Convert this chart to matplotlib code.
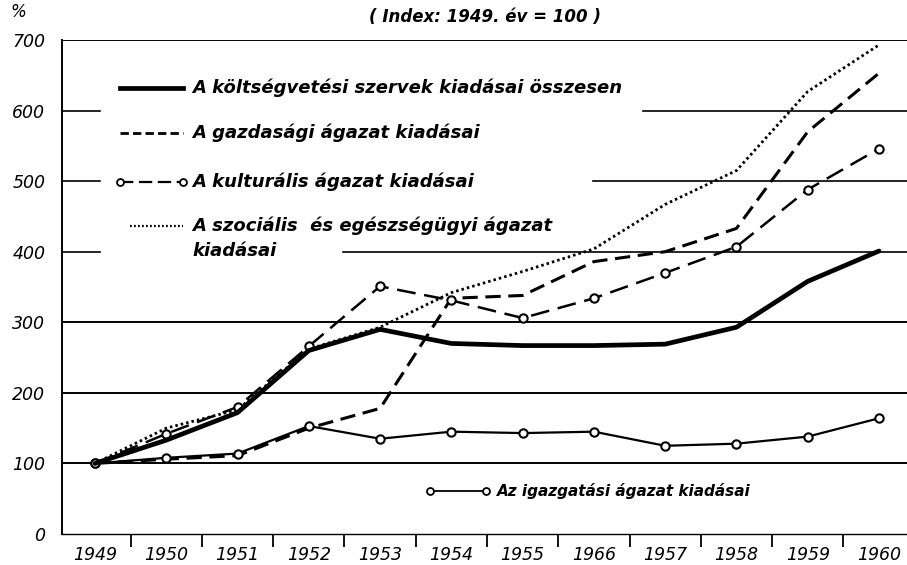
import matplotlib
matplotlib.use("Agg")
import matplotlib.pyplot as plt
from matplotlib.ticker import FixedLocator

# Index values, 1949 = 100
years = [1949, 1950, 1951, 1952, 1953, 1954, 1955, 1956, 1957, 1958, 1959, 1960]
year_labels = ["1949", "1950", "1951", "1952", "1953", "1954",
               "1955", "1966", "1957", "1958", "1959", "1960"]
total = [100, 133, 172, 260, 290, 270, 267, 267, 269, 293, 358, 401]
economic = [100, 106, 111, 150, 178, 334, 338, 386, 400, 433, 570, 653]
cultural = [100, 142, 180, 266, 351, 331, 306, 334, 370, 407, 488, 546]
social = [100, 150, 176, 262, 293, 342, 372, 404, 467, 515, 627, 693]
admin = [100, 108, 114, 153, 135, 145, 143, 145, 125, 128, 138, 164]

y_ticks = [0, 100, 200, 300, 400, 500, 600, 700]

FONT = "DejaVu Sans"


def ax_pt(x, y):
    # converted reference pixel position to axes fraction
    return (x - 62) / 845, (534 - y) / 494


fig = plt.figure(figsize=(9.07, 5.65), dpi=100)
ax = fig.add_axes([62 / 907, 31 / 565, 845 / 907, 494 / 565])

ax.set_xlim(1948.537, 1960.393)
ax.set_ylim(0, 700)

# grid lines: full ones and the ones broken by the legend
for v in [100, 200, 300, 700]:
    ax.axhline(v, color="black", lw=1.4, zorder=1)
for v, start in [(600, 643), (500, 593), (400, 343)]:
    ax.axhline(v, xmin=0, xmax=ax_pt(100, 0)[0], color="black", lw=1.2, zorder=1)
    ax.axhline(v, xmin=ax_pt(start, 0)[0], xmax=1, color="black", lw=1.2, zorder=1)

ax.plot(years, total, color="black", lw=3.4, solid_capstyle="round", zorder=5)
ax.plot(years, economic, color="black", lw=2.2, dashes=(5, 2.5), zorder=4)
ax.plot(years, cultural, color="black", lw=1.8, dashes=(7.5, 3.5), marker="o",
        ms=6, mfc="white", mec="black", mew=1.5, zorder=4)
ax.plot(years, social, color="black", lw=2.0, dashes=(0.9, 1.1), zorder=3)
ax.plot(years, admin, color="black", lw=1.6, marker="o", ms=6, mfc="white",
        mec="black", mew=1.5, zorder=4)

# spines and ticks
for s in ["top", "right"]:
    ax.spines[s].set_visible(False)
ax.spines["left"].set_linewidth(1.4)
ax.spines["bottom"].set_linewidth(1.0)
ax.spines["bottom"].set_linestyle((0, (1, 1)))

ax.set_xticks(years)
ax.set_xticklabels(year_labels, fontstyle="italic", fontsize=12.5, family=FONT)
ax.xaxis.set_minor_locator(FixedLocator([y + 0.5 for y in years[:-1]]))
ax.tick_params(axis="x", which="major", length=0, pad=9)
ax.tick_params(axis="x", which="minor", length=9, width=1.3, direction="out")

ax.set_yticks(y_ticks)
ax.set_yticklabels([str(v) for v in y_ticks], fontstyle="italic", fontsize=12.5,
                   family=FONT)
ax.tick_params(axis="y", length=0, pad=12)

fig.text(10 / 907, 1 - 12 / 565, "%", fontsize=12, fontstyle="italic",
         ha="left", va="center", family=FONT)
fig.text(485 / 907, 1 - 17 / 565, "( Index: 1949. év = 100 )", fontsize=12,
         fontstyle="italic", fontweight="bold", ha="center", va="center",
         family=FONT)

# hand-drawn legend inside the plot area
tr = ax.transAxes
leg_kw = dict(transform=tr, fontsize=13, fontstyle="italic", fontweight="bold",
              va="center", ha="left", family=FONT)


def sample(x0, x1, y, **kw):
    p0, p1 = ax_pt(x0, y), ax_pt(x1, y)
    ax.plot([p0[0], p1[0]], [p0[1], p1[1]], transform=tr, color="black",
            clip_on=False, **kw)


sample(120, 183, 88, lw=3.4)
ax.text(*ax_pt(192, 88), "A költségvetési szervek kiadásai összesen", **leg_kw)

sample(120, 183, 133, lw=2.0, dashes=(3, 1.5))
ax.text(*ax_pt(192, 133), "A gazdasági ágazat kiadásai", **leg_kw)

sample(120, 183, 182, lw=1.6, dashes=(6, 2.5), marker="o", ms=5, mfc="white",
       mec="black", mew=1.3)
ax.text(*ax_pt(192, 182), "A kulturális ágazat kiadásai", **leg_kw)

sample(130, 183, 226, lw=1.6, dashes=(0.8, 1.0))
ax.text(*ax_pt(192, 226), "A szociális  és egészségügyi ágazat", **leg_kw)
ax.text(*ax_pt(192, 251), "kiadásai", **leg_kw)

sample(430, 486, 491, lw=1.3, marker="o", ms=5, mfc="white", mec="black",
       mew=1.3)
ax.text(*ax_pt(497, 491), "Az igazgatási ágazat kiadásai",
        **{**leg_kw, "fontsize": 11, "fontweight": "semibold"})

fig.savefig("out.png", dpi=100)
